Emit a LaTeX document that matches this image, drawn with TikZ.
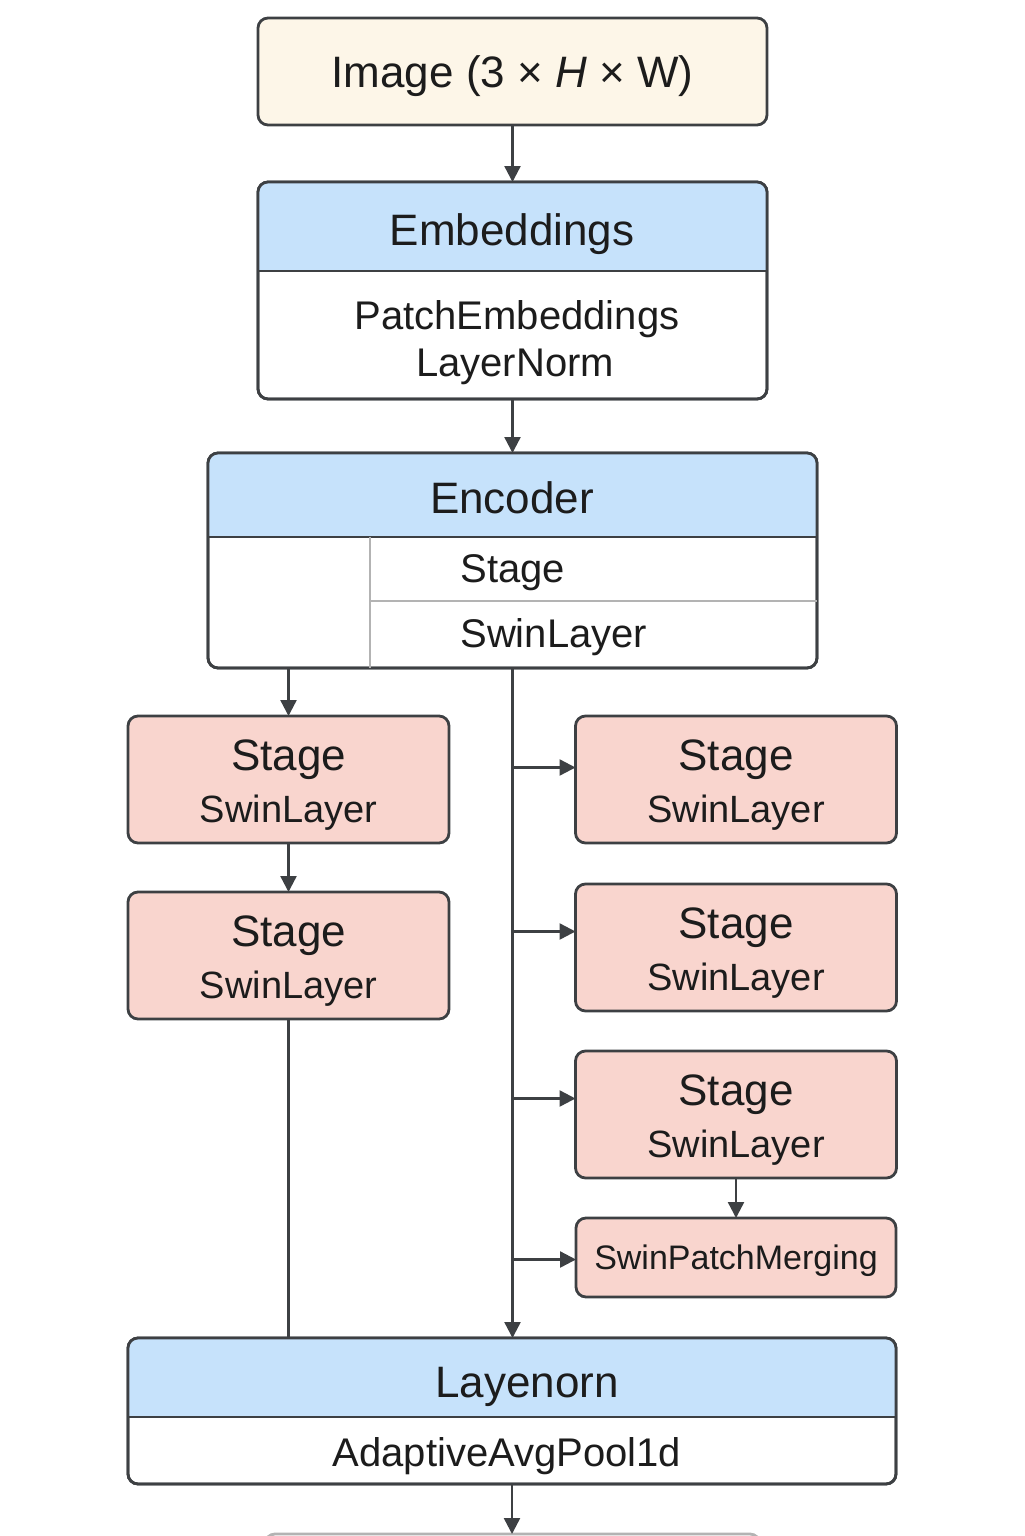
\documentclass[tikz,border=0pt]{standalone}
\usepackage{fontspec}
\setmainfont{Liberation Sans}
\usetikzlibrary{arrows.meta,positioning}
\definecolor{cream}{HTML}{FDF6E8}
\definecolor{hdblue}{HTML}{C6E2FB}
\definecolor{salmon}{HTML}{F9D5CE}
\definecolor{boxgray}{HTML}{3D4043}
\definecolor{divgray}{HTML}{B3B3B3}
\definecolor{inkblack}{HTML}{1C1C1C}

\begin{document}
\begin{tikzpicture}[
    x=0.5pt, y=-0.5pt,
    every node/.style={text=inkblack},
    boxed/.style={
        draw=boxgray,
        line width=1.4pt,
        rounded corners=5pt,
        inner sep=0pt,
        outer sep=0pt,
        align=center},
    inputbox/.style={
        boxed,
        fill=cream,
        minimum width=254.5pt,
        minimum height=53.5pt,
        text depth=0pt,
        font=\fontsize{22}{26}\selectfont},
    panel/.style={
        boxed,
        fill=white},
    stagebox/.style={
        boxed,
        fill=salmon,
        minimum width=160.5pt,
        minimum height=63.5pt,
        font=\fontsize{22}{26.25}\selectfont},
    mergebox/.style={
        boxed,
        fill=salmon,
        minimum width=160pt,
        minimum height=39.5pt,
        text depth=0pt,
        font=\fontsize{17}{20}\selectfont},
    headtext/.style={anchor=base, inner sep=0pt, font=\fontsize{22}{26}\selectfont},
    bodytext/.style={anchor=base, inner sep=0pt, font=\fontsize{20}{24}\selectfont},
    outline/.style={draw=boxgray, line width=1.4pt, rounded corners=5pt},
    divider/.style={draw=boxgray, line width=1.4pt},
    cellline/.style={draw=divgray, line width=1pt},
    wire/.style={draw=boxgray, line width=1.2pt},
    arrowline/.style={wire, -{Triangle[length=8pt,width=8pt]}},
  ]
  \useasboundingbox (0,0) rectangle (1024,1536);
  \clip (0,0) rectangle (1024,1536);

  % Input
  \node[inputbox] (image) at (512.5,71.5) {Image (3 × \textit{H} × W)};

  % Panels
  \node[panel, minimum width=254.5pt, minimum height=108.5pt] (embed) at (512.5,290.5) {};
  \node[panel, minimum width=304.5pt, minimum height=107.5pt] (encoder) at (512.5,560.5) {};
  \node[panel, minimum width=384pt, minimum height=73pt] (pool) at (512,1411) {};

  % Panel headers
  \foreach \b/\y in {embed/271, encoder/537, pool/1417}{
    \coordinate (\b-cut) at (0,\y);
    \begin{scope}
      \clip (\b.north west) rectangle (\b.east |- \b-cut);
      \fill[hdblue, rounded corners=5pt] (\b.north west) rectangle (\b.south east);
    \end{scope}
    \draw[divider] (\b.west |- \b-cut) -- (\b.east |- \b-cut);
    \draw[outline] (\b.north west) rectangle (\b.south east);
  }

  % Panel texts
  \node[headtext] (embedT) at (512,245) {Embeddings};
  \node[bodytext] (embedP) at (517,329) {PatchEmbeddings};
  \node[bodytext] (embedL) at (515,376) {LayerNorm};
  \node[headtext] (encoderT) at (512,513) {Encoder};
  \node[bodytext, anchor=base west] (encoderS) at (460,582) {Stage};
  \node[bodytext, anchor=base west] (encoderL) at (460,647) {SwinLayer};
  \node[headtext] (poolT) at (527,1397) {Layenorn};
  \node[bodytext] (poolA) at (507,1466) {AdaptiveAvgPool1d};

  % Encoder cells
  \draw[cellline] (370,537) -- (370,668);
  \draw[cellline] (370,601) -- (817,601);

  % Stages
  \node[stagebox] (stageA) at (288.5,779.5) {\rule{0pt}{21pt}Stage\\{\fontsize{19}{26.25}\selectfont SwinLayer}};
  \node[stagebox] (stageB) at (288.5,955.5) {\rule{0pt}{21pt}Stage\\{\fontsize{19}{26.25}\selectfont SwinLayer}};
  \node[stagebox] (stageC) at (736,779.5) {\rule{0pt}{21pt}Stage\\{\fontsize{19}{26.25}\selectfont SwinLayer}};
  \node[stagebox] (stageD) at (736,947.5) {\rule{0pt}{21pt}Stage\\{\fontsize{19}{26.25}\selectfont SwinLayer}};
  \node[stagebox] (stageE) at (736,1114.5) {\rule{0pt}{21pt}Stage\\{\fontsize{19}{26.25}\selectfont SwinLayer}};
  \node[mergebox] (merge) at (736,1257.5) {SwinPatchMerging};

  % Next block, cut off by the page
  \node[boxed, draw=divgray, minimum width=247.5pt, minimum height=30pt, anchor=north] (output) at (512.5,1534) {};

  % Connectors
  \draw[arrowline] (image.south) -- (embed.north);
  \draw[arrowline] (embed.south) -- (encoder.north);
  \draw[arrowline] (encoder.south -| stageA.north) -- (stageA.north);
  \draw[arrowline] (stageA.south) -- (stageB.north);
  \draw[wire] (stageB.south) -- (stageB.south |- pool.north);
  \draw[arrowline] (encoder.south) -- (encoder.south |- pool.north);
  \foreach \n/\s in {stageC/6pt, stageD/8pt, stageE/8pt, merge/-1pt}{
    \coordinate (\n-in) at ([yshift=\s]\n.west);
    \draw[arrowline] (\n-in -| encoder.south) -- (\n-in);
  }
  \draw[arrowline] (stageE.south) -- (merge.north);
  \draw[arrowline] (pool.south) -- (pool.south |- output.north);
\end{tikzpicture}
\end{document}
